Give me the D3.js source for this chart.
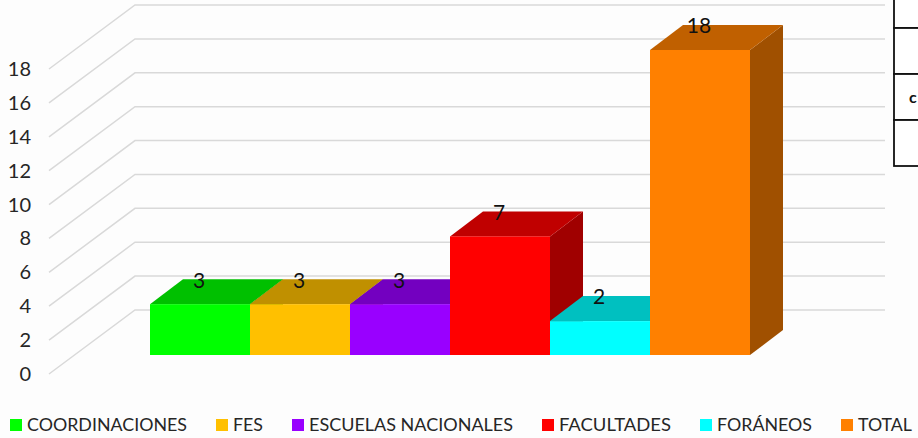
<!DOCTYPE html>
<html><head><meta charset="utf-8">
<script src="https://cdn.jsdelivr.net/npm/d3@7"></script>
<style>html,body{margin:0;padding:0;background:#fdfdfd}svg{display:block}text{font-family:Lato,"Open Sans",sans-serif;fill:#262626}</style>
</head><body><svg id="c" width="918" height="438"></svg>
<script>
const categories = ["COORDINACIONES","FES","ESCUELAS NACIONALES","FACULTADES","FORÁNEOS","TOTAL"];
const values = [3,3,3,7,2,18];
const frontColors = ["#00ff00","#ffc000","#9900ff","#ff0000","#00ffff","#ff8000"];
const topColors = ["#00c000","#c09000","#7300c0","#c00000","#00c0c0","#c06000"];
const sideColors = ["#00a000","#a07800","#6000a0","#a00000","#00a0a0","#a05000"];
const yTicks = [0,2,4,6,8,10,12,14,16,18];
const tableRows = ["","","c",""];

const svg = d3.select("#c");
const unit = 305/18;
const y = d3.scaleLinear().domain([0,18]).range([0,-18*unit]);
const x = d3.scaleBand().domain(categories).range([150,750]);
const floor = {fx:49, fy:374, bx:135, by:310, right:885};
const depth = {dx:33, dy:-25};
const baseY = 355;

// walls
svg.append("g").selectAll("path").data(yTicks).join("path")
  .attr("fill","none").attr("stroke","#d9d9d9").attr("stroke-width",1.5)
  .attr("d",d=>`M${floor.fx},${floor.fy+y(d)}L${floor.bx},${floor.by+y(d)}L${floor.right},${floor.by+y(d)}`);

// axis labels
svg.append("g").selectAll("text").data(yTicks).join("text")
  .attr("x",31).attr("y",d=>floor.fy+y(d)).attr("dy","0.35em")
  .attr("text-anchor","end").attr("font-size",20).text(d=>d);

// bars
const bars = svg.append("g").selectAll("g").data(categories).join("g");
bars.each(function(c,i){
  const g=d3.select(this), l=x(c), r=l+x.bandwidth(), t=baseY+y(values[i]);
  const p=pts=>pts.map(q=>q.join(",")).join(" ");
  g.append("polygon").attr("fill",sideColors[i])
    .attr("points",p([[r,t],[r+depth.dx,t+depth.dy],[r+depth.dx,baseY+depth.dy],[r,baseY]]));
  g.append("polygon").attr("fill",topColors[i])
    .attr("points",p([[l,t],[l+depth.dx,t+depth.dy],[r+depth.dx,t+depth.dy],[r,t]]));
  g.append("rect").attr("fill",frontColors[i]).attr("x",l).attr("y",t).attr("width",x.bandwidth()).attr("height",baseY-t);
});
// data labels (above all bars)
svg.append("g").selectAll("text").data(categories).join("text")
  .attr("x",c=>x(c)+x.bandwidth()/2-1)
  .attr("y",(c,i)=>baseY+y(values[i])+depth.dy+1).attr("dy","0.35em")
  .attr("text-anchor","middle").attr("font-size",21).style("fill","#111")
  .text((c,i)=>values[i]);

// legend
const legendTextWidths = [160,30,204,112,95,54];
const lg = svg.append("g");
let lx = 10;
categories.forEach((c,i)=>{
  lg.append("rect").attr("x",lx).attr("y",419).attr("width",12).attr("height",12).attr("fill",frontColors[i]);
  lg.append("text").attr("x",lx+17).attr("y",425).attr("dy","0.35em").attr("font-size",18)
    .attr("textLength",legendTextWidths[i]).attr("lengthAdjust","spacingAndGlyphs").text(c);
  lx += 17 + legendTextWidths[i] + 29;
});

// table fragment
const rowH=46, tableX=894, tableBottom=166;
svg.append("g").selectAll("rect").data(tableRows).join("rect")
  .attr("x",tableX).attr("y",(d,i)=>tableBottom-rowH*(tableRows.length-i))
  .attr("width",40).attr("height",rowH).attr("fill","#fff").attr("stroke","#111").attr("stroke-width",1.8);
svg.append("g").selectAll("text").data(tableRows).join("text")
  .attr("x",909).attr("y",(d,i)=>tableBottom-rowH*(tableRows.length-i)+rowH/2).attr("dy","0.35em")
  .attr("font-size",16).attr("font-weight",700).style("fill","#111").text(d=>d);
</script></body></html>
